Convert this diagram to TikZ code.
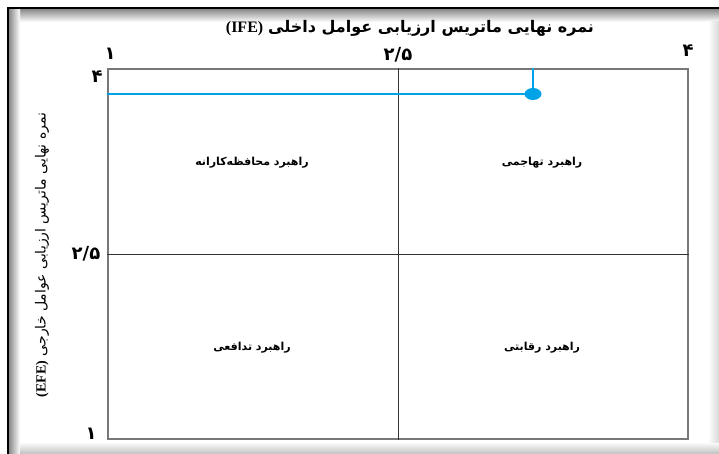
\documentclass[tikz,border=0pt]{standalone}
\usepackage{fontspec}
\usetikzlibrary{shapes.geometric}
\TeXXeTstate=1
\newfontfamily\arabicfont[Script=Arabic]{DejaVu Sans}
\newfontfamily\latinserif{Liberation Serif}
\definecolor{ptblue}{RGB}{0,162,232}
\definecolor{boxgray}{RGB}{120,120,120}
\tikzset{
  numlbl/.style={font=\arabicfont\bfseries\fontsize{18}{20}\selectfont, inner sep=0pt},
  quadlbl/.style={font=\arabicfont\bfseries\fontsize{11}{13}\selectfont, inner sep=0pt},
  titlelbl/.style={font=\fontsize{16}{18}\selectfont, inner sep=0pt},
  sidelbl/.style={font=\fontsize{14}{16}\selectfont, inner sep=0pt},
  bluelink/.style={draw=ptblue, line width=1.3pt},
}
\begin{document}
\begin{tikzpicture}[x=1pt,y=-1pt]
\useasboundingbox (0,0) rectangle (719,454);
\fill[white] (0,0) rectangle (719,454);
% frame shadow
\shade[top color=black!50, bottom color=white] (8,8) rectangle (719,22);
\shade[left color=black!50, right color=white] (8,8) rectangle (20,454);
\shade[top color=white, bottom color=black!25] (20,442) rectangle (719,454);
\shade[left color=white, right color=black!15] (708,22) rectangle (719,442);
\fill[white] (20,22) rectangle (708,442);
\draw[black, line width=2pt] (8,454) -- (8,8) -- (719,8);
% main box
\node[draw=boxgray, line width=1.5pt, minimum width=580pt, minimum height=370pt, inner sep=0pt] (box) at (398,254) {};
\draw[black!80, line width=0.8pt] (box.north) -- (box.south);
\draw[black!80, line width=0.8pt] (box.west) -- (box.east);
% point
\node[ellipse, fill=ptblue, minimum width=17pt, minimum height=12pt, inner sep=0pt] (pt) at (533,94) {};
\draw[bluelink] (pt.center) -- (pt.center -| box.west);
\draw[bluelink] (pt.center) -- (pt.center |- box.north);
% axis numbers
\node[numlbl] (x1) at (110,54) {۱};
\node[numlbl] (x2) at (398,55) {۲/۵};
\node[numlbl] (x4) at (688,51) {۴};
\node[numlbl] (y4) at (97,77) {۴};
\node[numlbl] (y2) at (86,254) {۲/۵};
\node[numlbl] (y1) at (91,434) {۱};
% titles
\node[titlelbl] (ttop) at (410,28) {{\latinserif\bfseries (IFE)} {\arabicfont\bfseries\beginR نمره نهایی ماتریس ارزیابی عوامل داخلی\endR}};
\node[sidelbl, rotate=90] (tleft) at (42,255) {{\latinserif\bfseries (EFE)} {\arabicfont\beginR نمره نهایی ماتریس ارزیابی عوامل خارجی\endR}};
% quadrant labels
\node[quadlbl] (q1) at (252,163) {\beginR راهبرد محافظه‌کارانه\endR};
\node[quadlbl] (q2) at (542,163) {\beginR راهبرد تهاجمی\endR};
\node[quadlbl] (q3) at (252,348) {\beginR راهبرد تدافعی\endR};
\node[quadlbl] (q4) at (542,348) {\beginR راهبرد رقابتی\endR};
\end{tikzpicture}
\end{document}
